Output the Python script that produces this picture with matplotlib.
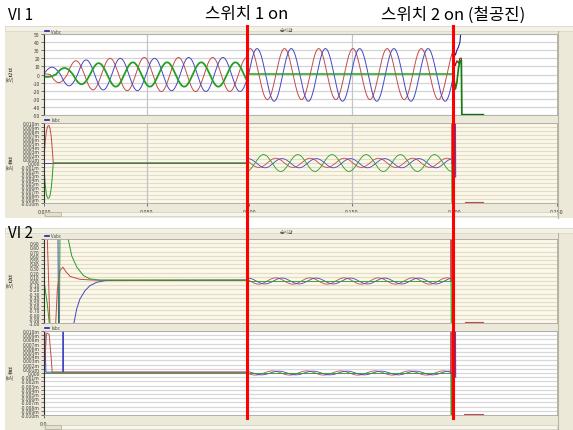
import numpy as np
import matplotlib
matplotlib.use('Agg')
import matplotlib.pyplot as plt
from matplotlib.patches import Rectangle
from matplotlib.lines import Line2D

plt.rcParams['font.family'] = ['Noto Sans CJK KR', 'DejaVu Sans']

W, H = 573, 431

freq = 60.0
switch_t = [0.0988, 0.1993]
switch_labels = ['스위치 1 on', '스위치 2 on (철공진)']
x_ticks = [0.000, 0.050, 0.100, 0.150, 0.200, 0.250]
x_ticklabels = ['0.000', '0.050', '0.100', '0.150', '0.200', '0.250']

v1_ticks = [50, 40, 30, 20, 10, 0, -10, -20, -30, -40, -50]
i_ticks = [0.010, 0.009, 0.008, 0.007, 0.006, 0.005, 0.004, 0.003, 0.002, 0.001, 0.0,
           -0.001, -0.002, -0.003, -0.004, -0.005, -0.006, -0.007, -0.008, -0.009, -0.010]
v2_ticks = [1.0, 0.9, 0.8, 0.7, 0.6, 0.5, 0.4, 0.3, 0.2, 0.1, 0.0,
            -0.1, -0.2, -0.3, -0.4, -0.5, -0.6, -0.7, -0.8, -0.9, -1.0]

# VI 1 voltage, before switch 1: time of a positive peak + half-cycle peak sizes
v1a_peak_t = {'r': 0.0322, 'b': 0.0372, 'g': 0.0433}
v1a_red = [1, 10, 17, 19, 20, 20, 21, 21, 21, 21, 21, 21, 21, 21]
v1a_blue = [9, 14, 18, 19, 20, 20, 20, 20, 21, 21, 21, 21, 21, 21]
v1a_green = [3, 8, 12, 14, 15, 15, 15, 15, 15, 15, 15, 15, 15, 15]
# VI 1 voltage, between switch 1 and switch 2
v1b_peak_t = {'r': 0.1172, 'b': 0.1205}
v1b_red = [32, 31, 32, 31, 32, 31, 32, 31, 32, 31, 32, 31, 32, 31]
v1b_blue = [33, 32, 33, 32, 33, 32, 33, 32, 33, 32, 33, 32, 33, 32]
v1b_green_level = 0.6
# VI 1 voltage, at switch 2
v1c_t = [0.1993, 0.1998, 0.2005, 0.2012, 0.2020, 0.2027, 0.2034, 0.2036]
v1c_red = [22, 18, 11, 17, 14, 20, 20, -60]
v1c_blue = [26, 28, 24, 30, 34, 40, 60, 60]
v1c_green = [0.6, -5, -18, -10, 8, 17, 17, -49.3]
v1_tail_t = [0.2036, 0.2139]
v1_tail_green = [-49.3, -49.3]

# VI 1 current
i1a_t = [0, 0.0001, 0.0006, 0.0012, 0.0018, 0.0024, 0.0030, 0.0036, 0.0041, 0.0045, 0.0988]
i1a_red = [0, 0.002, 0.0055, 0.008, 0.0092, 0.0094, 0.0085, 0.0062, 0.003, 0.0, 0.0]
i1a_green = [0, -0.002, -0.0055, -0.008, -0.0088, -0.0088, -0.008, -0.006, -0.003, 0.0, 0.0]
i1a_blue = [0, 0, 0, 0, 0, 0, 0, 0, 0, 0, 0]
i1b_peak_t = {'r': 0.1130, 'b': 0.1160, 'g': 0.1070}
i1b_red = [0.0012, 0.0011, 0.0012, 0.0011, 0.0012, 0.0011, 0.0012, 0.0011, 0.0012, 0.0011, 0.0012, 0.0011, 0.0012, 0.0011]
i1b_blue = [0.0011, 0.0012, 0.0011, 0.0012, 0.0011, 0.0012, 0.0011, 0.0012, 0.0011, 0.0012, 0.0011, 0.0012, 0.0011, 0.0012]
i1b_green = [0.0021, 0.0021, 0.0021, 0.0021, 0.0021, 0.0021, 0.0021, 0.0021, 0.0021, 0.0021, 0.0021, 0.0021, 0.0021, 0.0021]
i1c_t = [0.1988, 0.1989, 0.1990, 0.2004, 0.2005, 0.2006]
i1c_red = [0.0, 0.011, -0.011, -0.011, -0.011, -0.011]
i1c_green = [0.0, -0.011, -0.011, -0.011, -0.011, -0.011]
i1c_blue = [0.0, 0.0, 0.0, 0.0, 0.011, -0.0035]
i1_tail_t = [0.2052, 0.2139]
i1_tail_red = [-0.0098, -0.0098]

# VI 2 voltage
v2a_red_t = [0, 0.0003, 0.0015, 0.0030, 0.0055, 0.0065, 0.0078, 0.0092, 0.0107, 0.0127, 0.0175, 0.025, 0.0988]
v2a_red = [0, 1.2, 1.2, -1.2, -1.2, -0.2, 0.25, 0.33, 0.22, 0.11, 0.04, 0.02, 0.02]
v2a_blue_t = [0, 0.0003, 0.0068, 0.0071, 0.0146, 0.0159, 0.0175, 0.0200, 0.0224, 0.0257, 0.030, 0.0988]
v2a_blue = [0, 1.2, 1.2, -1.2, -1.0, -0.67, -0.43, -0.23, -0.11, -0.03, 0.01, 0.02]
v2a_green_t = [0, 0.0015, 0.0030, 0.0075, 0.0078, 0.0110, 0.0118, 0.0135, 0.0160, 0.0192, 0.0224, 0.0273, 0.0988]
v2a_green = [0, -0.5, -1.2, -1.2, 1.2, 1.2, 1.0, 0.6, 0.33, 0.13, 0.05, 0.02, 0.02]
v2b_peak_t = {'r': 0.1296, 'b': 0.1326}
v2b_red = [0.075] * 14
v2b_blue = [0.07] * 14
v2b_green_level = 0.0
v2c_t = [0.1983, 0.1984, 0.1985]
v2c_red = [0.0, 1.2, 0.0]
v2c_green = [0.0, 0.0, -1.2]
v2_tail_t = [0.2052, 0.2139]
v2_tail_red = [-0.985, -0.985]

# VI 2 current
i2a_red_t = [0, 0.0003, 0.0012, 0.0015, 0.0025, 0.0036, 0.0040, 0.0988]
i2a_red = [0, 0.002, 0.0093, 0.0095, 0.0092, 0.003, 0.0002, 0.0002]
i2a_blue_t = [0, 0.0002, 0.0004, 0.0009, 0.0092, 0.0093, 0.0094, 0.0988]
i2a_blue = [0, 0.011, 0.011, 0.0002, 0.0002, 0.011, 0.0002, 0.0002]
i2b_peak_t = {'r': 0.1280, 'b': 0.1310}
i2b_red = [0.0005] * 14
i2b_blue = [0.00045] * 14
i2c_t = [0.1983, 0.1984, 0.1985, 0.2004, 0.2005, 0.2006]
i2c_red = [0.0, 0.011, -0.011, -0.011, -0.011, -0.011]
i2c_green = [0.0, 0.0, -0.011, -0.011, -0.011, -0.011]
i2c_blue = [0.0, 0.0, 0.0, 0.0, 0.011, -0.001]
i2_tail_t = [0.2047, 0.2139]
i2_tail_red = [-0.0098, -0.0098]

RED = '#C44A4A'
BLUE = '#4646C4'
GREEN = '#22A022'
BEIGE = '#ECE9D8'


def wave(t, peak_t, amps):
    th = 2 * np.pi * freq * (t - peak_t) + np.pi / 2
    k = np.floor(th / np.pi) - np.floor(th[0] / np.pi)
    k = np.clip(k.astype(int), 0, len(amps) - 1)
    return np.asarray(amps)[k] * np.sin(th)


def frac(x0, y0, x1, y1):
    return [x0 / W, 1 - y1 / H, (x1 - x0) / W, (y1 - y0) / H]


def i_label(v):
    return '0.000' if v == 0 else f'{v:.3f}m'


fig = plt.figure(figsize=(W / 100, H / 100), dpi=100)
fig.patch.set_facecolor('white')

# window panels
for y0, y1 in [(27, 219), (229, 431)]:
    fig.add_artist(Rectangle((5 / W, 1 - y1 / H), (W - 5) / W, (y1 - y0) / H,
                             transform=fig.transFigure, facecolor=BEIGE, edgecolor='none', zorder=0))
    fig.add_artist(Rectangle((5 / W, 1 - (y0 + 5) / H), (W - 5) / W, 5 / H,
                             transform=fig.transFigure, facecolor='#F4F2E8', edgecolor='#D8D4C0',
                             lw=0.5, zorder=0))
    fig.text(287 / W, 1 - (y0 + 3) / H, '순시값', fontsize=3.5, color='#505050', ha='center', va='center')
    # right side divider
    fig.add_artist(Line2D([558 / W, 558 / W], [1 - y1 / H, 1 - (y0 + 5) / H],
                          transform=fig.transFigure, color='#B8B4A0', lw=0.8, zorder=1))

ax1 = fig.add_axes(frac(44, 35, 557, 116))
ax2 = fig.add_axes(frac(44, 124, 557, 204))
ax3 = fig.add_axes(frac(44, 240, 557, 324))
ax4 = fig.add_axes(frac(44, 332, 557, 416))

# top label of VI 2 voltage is hidden under the "VI 2" caption in the capture
v2_labels = [f'{v:.2f}' for v in v2_ticks]
v2_labels[0] = ''

styles = [
    (ax1, 'white', '#D4D4D4', v1_ticks, [str(v) for v in v1_ticks], True, 'Vabc', '전\n압\n(kV)'),
    (ax2, '#FBF8EC', '#E4DCC4', i_ticks, [i_label(v) for v in i_ticks], True, 'Iabc', '전\n류\n(kA)'),
    (ax3, '#FBF8EC', '#E4DCC4', v2_ticks, v2_labels, False, 'Vabc', '전\n압\n(kV)'),
    (ax4, 'white', '#D8D8D8', i_ticks, [i_label(v) for v in i_ticks], False, 'Iabc', '전\n류\n(kA)'),
]
for ax, fc, gc, yt, ytl, vgrid, leg, ylab in styles:
    ax.set_facecolor(fc)
    ax.set_xlim(0, 0.25)
    ax.set_ylim(min(yt), max(yt))
    ax.set_yticks(yt)
    ax.set_yticklabels(ytl)
    for v in yt:
        ax.axhline(v, color=gc, lw=0.9, zorder=0)
    if vgrid:
        for xv in [0.05, 0.15]:
            ax.axvline(xv, color='#C4C4C4', lw=0.9, zorder=0)
    ax.tick_params(axis='y', labelsize=3.6, length=2, width=0.5, pad=1, colors='#404040')
    ax.tick_params(axis='x', labelsize=4, length=2, width=0.5, pad=2, colors='#404040')
    for s in ['top', 'right', 'bottom']:
        ax.spines[s].set_color('#A8A8A8')
        ax.spines[s].set_linewidth(0.6)
    ax.spines['left'].set_color('#303030')
    ax.spines['left'].set_linewidth(0.8)
    pos = ax.get_position()
    fig.add_artist(Line2D([pos.x0 + 1 / W, pos.x0 + 5 / W], [pos.y1 + 3 / H] * 2,
                          transform=fig.transFigure, color='#2020A0', lw=1.2))
    fig.text(pos.x0 + 7 / W, pos.y1 + 3 / H, leg, fontsize=3.2, color='#404040', va='center')
    fig.text(10 / W, (pos.y0 + pos.y1) / 2, ylab, fontsize=3.4, color='#404040',
             ha='center', va='center', linespacing=0.9)

ax2.set_xticks(x_ticks)
ax2.set_xticklabels(x_ticklabels)
ax1.set_xticks([])
ax3.set_xticks([])
ax4.set_xticks([0.0])
ax4.set_xticklabels(['0.0'])

# ---- VI 1 voltage ----
ta = np.linspace(0, switch_t[0], 800)
tb = np.linspace(switch_t[0], switch_t[1], 800)
ax1.plot(ta, wave(ta, v1a_peak_t['r'], v1a_red), color=RED, lw=0.7)
ax1.plot(ta, wave(ta, v1a_peak_t['b'], v1a_blue), color=BLUE, lw=0.7)
ax1.plot(ta, wave(ta, v1a_peak_t['g'], v1a_green), color=GREEN, lw=1.3)
ax1.plot(tb, wave(tb, v1b_peak_t['r'], v1b_red), color=RED, lw=0.7)
ax1.plot(tb, wave(tb, v1b_peak_t['b'], v1b_blue), color=BLUE, lw=0.7)
ax1.plot([switch_t[0], switch_t[0], switch_t[1]],
         [-12, v1b_green_level, v1b_green_level], color=GREEN, lw=1.1)
ax1.plot(v1c_t, v1c_red, color='#8A2020', lw=0.8)
ax1.plot(v1c_t, v1c_blue, color='#2020A0', lw=0.8)
ax1.plot(v1c_t, v1c_green, color='#108010', lw=1.2)
ax1.plot(v1_tail_t, v1_tail_green, color='#107010', lw=1.0)

# ---- VI 1 current ----
ax2.plot(i1a_t, i1a_blue, color=BLUE, lw=0.7)
ax2.plot(i1a_t, i1a_red, color=RED, lw=0.7)
ax2.plot(i1a_t, i1a_green, color=GREEN, lw=0.7)
ax2.plot(tb, wave(tb, i1b_peak_t['r'], i1b_red), color=RED, lw=0.6)
ax2.plot(tb, wave(tb, i1b_peak_t['b'], i1b_blue), color=BLUE, lw=0.6)
ax2.plot(tb, wave(tb, i1b_peak_t['g'], i1b_green), color=GREEN, lw=0.6)
ax2.plot(i1c_t, i1c_red, color=RED, lw=0.8)
ax2.plot(i1c_t, i1c_green, color=GREEN, lw=0.8)
ax2.plot(i1c_t, i1c_blue, color=BLUE, lw=0.8)
ax2.plot(i1_tail_t, i1_tail_red, color=RED, lw=0.8)

# ---- VI 2 voltage ----
ax3.plot(v2a_blue_t, v2a_blue, color=BLUE, lw=0.7)
ax3.plot(v2a_red_t, v2a_red, color=RED, lw=0.7)
ax3.plot(v2a_green_t, v2a_green, color=GREEN, lw=0.7)
ax3.plot(tb, wave(tb, v2b_peak_t['r'], v2b_red), color=RED, lw=0.6)
ax3.plot(tb, wave(tb, v2b_peak_t['b'], v2b_blue), color=BLUE, lw=0.6)
ax3.plot([switch_t[0], switch_t[1]], [v2b_green_level] * 2, color=GREEN, lw=0.6)
ax3.plot(v2c_t, v2c_red, color=RED, lw=0.8)
ax3.plot(v2c_t, v2c_green, color=GREEN, lw=0.8)
ax3.plot(v2_tail_t, v2_tail_red, color=RED, lw=0.8)

# ---- VI 2 current ----
ax4.plot(i2a_blue_t, i2a_blue, color=BLUE, lw=0.7)
ax4.plot(i2a_red_t, i2a_red, color=RED, lw=0.7)
ax4.plot([0, switch_t[0]], [0.0001, 0.0001], color=GREEN, lw=0.6)
ax4.plot(tb, wave(tb, i2b_peak_t['r'], i2b_red), color=RED, lw=0.6)
ax4.plot(tb, wave(tb, i2b_peak_t['b'], i2b_blue), color=BLUE, lw=0.6)
ax4.plot([switch_t[0], switch_t[1]], [0, 0], color=GREEN, lw=0.6)
ax4.plot(i2c_t, i2c_red, color=RED, lw=0.8)
ax4.plot(i2c_t, i2c_green, color=GREEN, lw=0.8)
ax4.plot(i2c_t, i2c_blue, color=BLUE, lw=0.8)
ax4.plot(i2_tail_t, i2_tail_red, color=RED, lw=0.8)

# scroll bars
for y in [213, 426]:
    fig.add_artist(Rectangle((44 / W, 1 - (y + 4) / H), 513 / W, 4 / H, transform=fig.transFigure,
                             facecolor='#F6F5EE', edgecolor='#C8C4B0', lw=0.4))
    fig.add_artist(Rectangle((45 / W, 1 - (y + 4) / H), 16 / W, 4 / H, transform=fig.transFigure,
                             facecolor='#E4E0CC', edgecolor='#A0A090', lw=0.4))

# titles
fig.text(8 / W, 1 - 15 / H, 'VI 1', fontsize=11, ha='left', va='center')
fig.text(8 / W, 1 - 233 / H, 'VI 2', fontsize=11, ha='left', va='center')

# switch markers
fig.canvas.draw()
for ts, lab in zip(switch_t, switch_labels):
    xd = ax1.transData.transform((ts, 0))[0]
    xf = fig.transFigure.inverted().transform((xd, 0))[0]
    fig.add_artist(Line2D([xf, xf], [1 - 419 / H, 1 - 27 / H], transform=fig.transFigure,
                          color='#FF0000', lw=2.2, zorder=10))
    fig.text(xf, 1 - 15 / H, lab, fontsize=12, ha='center', va='center')

fig.savefig('out.png', dpi=100)
